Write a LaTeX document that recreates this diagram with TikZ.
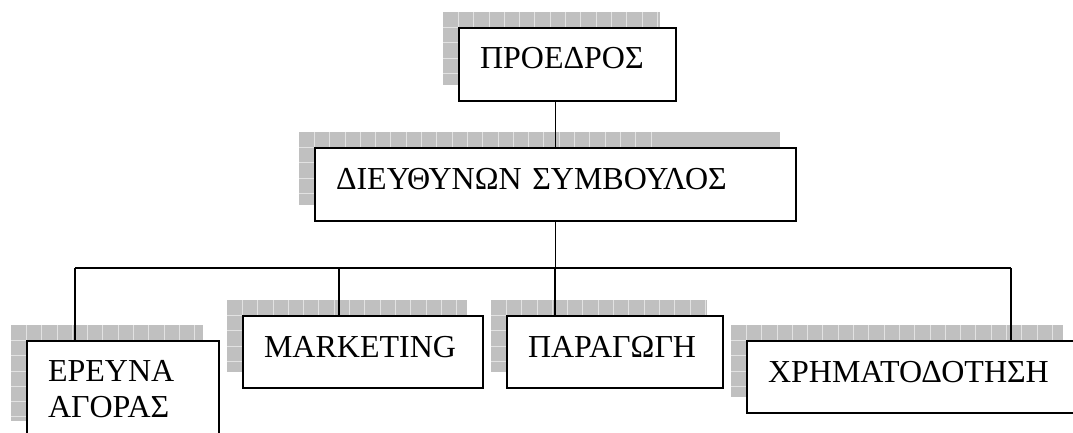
\documentclass[tikz,border=0pt]{standalone}
\usepackage{fontspec}
\setmainfont{Liberation Serif}
\usepackage{tikz}
\usetikzlibrary{calc,backgrounds}
\definecolor{shadowc}{RGB}{192,192,192}
\definecolor{gridc}{RGB}{226,226,226}
\newcommand{\chartfont}{\fontsize{32}{36}\selectfont}
% grey chequered shadow up and left of a box
\newcommand{\gridshadow}[1]{%
  \fill[shadowc] ($(#1.north west)+(-16,-16)$) rectangle ($(#1.south east)+(-16,-16)$);
  \begin{scope}
    \clip ($(#1.north west)+(-16,-16)$) rectangle ($(#1.south east)+(-16,-16)$);
    \foreach \k in {1,...,23}
      \draw[gridc, line width=0.7pt] ($(#1.north west)+(-16+\k*15.3,-16)$) -- ++(0,130);
    \foreach \k in {1,...,7}
      \draw[gridc, line width=0.7pt] ($(#1.north west)+(-16,-16+\k*15.3)$) -- ++(360,0);
  \end{scope}}

\begin{document}
\begin{tikzpicture}[x=1pt, y=-1pt,
  chartbox/.style={draw, line width=1.8pt, fill=white, anchor=north west, outer sep=0pt,
    inner xsep=21pt, inner ysep=0pt, align=left, font=\chartfont},
  onerow/.style={text height=22pt, text depth=12pt},
  link/.style={line width=1.6pt}]
  \useasboundingbox (0,0) rectangle (1073,432);
  \node[chartbox, onerow, text depth=15pt, minimum width=217, minimum height=73, text width=175] (pres) at (459,28) {ΠΡΟΕΔΡΟΣ};
  \node[chartbox, onerow, minimum width=481, minimum height=73, text width=439] (ceo) at (315,148) {ΔΙΕΥΘΥΝΩΝ ΣΥΜΒΟΥΛΟΣ};
  \node[chartbox, minimum width=192, minimum height=96, text width=150] (res) at (27,341) {ΕΡΕΥΝΑ\\ ΑΓΟΡΑΣ};
  \node[chartbox, onerow, minimum width=240, minimum height=72, text width=198] (mkt) at (243,316) {MARKETING};
  \node[chartbox, onerow, minimum width=216, minimum height=72, text width=174] (prod) at (507,316) {ΠΑΡΑΓΩΓΗ};
  \node[chartbox, onerow, minimum width=332, minimum height=72, text width=290] (fin) at (747,341) {ΧΡΗΜΑΤΟΔΟΤΗΣΗ};
  % bus line
  \coordinate (busl) at (75,268);
  \coordinate (busm) at (339,268);
  \coordinate (busp) at (555,268);
  \coordinate (busr) at (1011,268);
  \begin{scope}[on background layer]
    \foreach \n in {pres,ceo,res,mkt,prod,fin}
      \gridshadow{\n};
    \draw[link] (ceo.north) -- (ceo.north |- pres.south);
    \draw[link] (ceo.south) -- (ceo.south |- busl);
    \draw[link] (busl) -- (busr);
    \draw[link] (busl) -- (busl |- res.north);
    \draw[link] (busm) -- (busm |- mkt.north);
    \draw[link] (busp) -- (busp |- prod.north);
    \draw[link] (busr) -- (busr |- fin.north);
  \end{scope}
\end{tikzpicture}
\end{document}
